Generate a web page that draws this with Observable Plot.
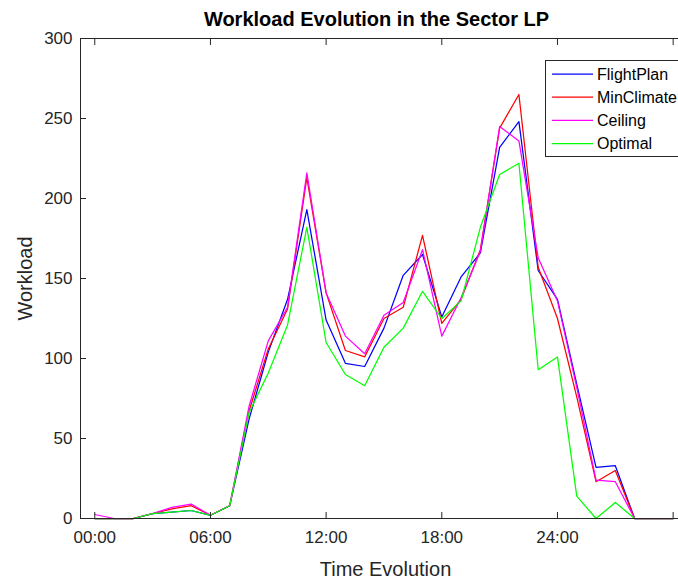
<!DOCTYPE html>
<html>
<head>
<meta charset="utf-8">
<script src="https://cdn.jsdelivr.net/npm/d3@7"></script>
<script src="https://cdn.jsdelivr.net/npm/@observablehq/plot@0.6"></script>
<style>
  body { margin: 0; background: #fff; }
  #chart { width: 678px; height: 580px; overflow: hidden; position: relative; }
  #chart svg { max-width: none !important; }
</style>
</head>
<body>
<div id="chart"></div>
<script>
// Hourly workload of the LP sector for each routing strategy
const hours = [0, 1, 2, 3, 4, 5, 6, 7, 8, 9, 10, 11, 12, 13, 14, 15, 16, 17, 18, 19, 20, 21, 22, 23, 24, 25, 26, 27, 28, 29, 30];

const flightPlan = [0, 0, 0, 3, 4, 5, 2, 8, 62, 104, 137, 193, 124, 97, 95, 119, 152, 165, 126, 151, 166, 232, 248, 155, 137, 84, 32, 33, 0, 0, 0];
const minClimate = [0, 0, 0, 3, 6, 8, 2, 8, 67, 106, 131, 213, 141, 105, 101, 125, 132, 177, 122, 137, 168, 244, 265, 157, 125, 76, 23, 30, 0, 0, 0];
const ceiling    = [2.5, 0, 0, 3, 7, 9, 2, 8, 70, 111, 132, 216, 141, 114, 103, 127, 135, 168, 114, 138, 167, 245, 236, 163, 136, 82, 24, 23, 0, 0, 0];
const optimal    = [0, 0, 0, 3, 4, 5, 2, 8, 66, 91, 121, 182, 110, 90, 83, 107, 119, 142, 125, 136, 182, 215, 222, 93, 101, 14, 0, 10, 0, 0, 0];

const seriesNames = ["FlightPlan", "MinClimate", "Ceiling", "Optimal"];
const seriesColors = ["#0000ff", "#ff0000", "#ff00ff", "#00ff00"];
const seriesValues = [flightPlan, minClimate, ceiling, optimal];

const xTicks = [0, 6, 12, 18, 24, 30];
const xTickLabels = ["00:00", "06:00", "12:00", "18:00", "24:00", ""];
const yTicks = [0, 50, 100, 150, 200, 250, 300];

const title = "Workload Evolution in the Sector LP";
const xLabel = "Time Evolution";
const yLabel = "Workload";

// long-format table for the line mark
const rows = seriesNames.flatMap((name, i) =>
  hours.map((h, j) => ({ series: name, hour: h, value: seriesValues[i][j] }))
);

const axisColor = "#262626";
const font = "'Liberation Sans', Arial, Helvetica, sans-serif";

const chart = Plot.plot({
  width: 700,
  height: 580,
  marginLeft: 80,
  marginRight: 10,
  marginTop: 38,
  marginBottom: 62,
  style: { fontFamily: font, fontSize: "16px", color: axisColor, background: "white", overflow: "visible", maxWidth: "none" },
  x: { domain: [-0.74, 30.9] },
  y: { domain: [0, 300] },
  color: { domain: seriesNames, range: seriesColors },
  marks: [
    Plot.line(rows, { x: "hour", y: "value", z: "series", stroke: "series", strokeWidth: 1.25 }),
    Plot.frame({ stroke: axisColor, strokeWidth: 1 }),
    // inward ticks on bottom, top and left edges
    Plot.axisX({ ticks: xTicks, tickSize: 6, dy: -6, text: null, label: null, stroke: axisColor }),
    Plot.axisX({ anchor: "top", ticks: xTicks, tickSize: 6, dy: 6, text: null, label: null, stroke: axisColor }),
    Plot.axisY({ ticks: yTicks, tickSize: 6, dx: 6, text: null, label: null, stroke: axisColor }),
    // tick labels
    Plot.axisX({ ticks: xTicks, tickSize: 0, tickPadding: 12, tickFormat: (d) => xTickLabels[xTicks.indexOf(d)], label: null, fontSize: 17, fill: axisColor }),
    Plot.axisY({ ticks: yTicks, tickSize: 0, tickPadding: 8, label: null, fontSize: 17, fill: axisColor }),
    // axis titles
    Plot.axisX({ ticks: [], label: xLabel, labelAnchor: "center", labelArrow: "none", labelOffset: 57, fontSize: 20, fill: axisColor }),
    Plot.axisY({ ticks: [], label: yLabel, labelAnchor: "center", labelArrow: "none", labelOffset: 63, fontSize: 20, fill: axisColor }),
    // chart title
    Plot.text([title], { frameAnchor: "top", dy: -19, dx: -9, fontWeight: "bold", fontSize: 20, fill: "black", lineAnchor: "middle" })
  ]
});

document.getElementById("chart").appendChild(chart);

// legend box in the upper right corner of the axes
const svg = d3.select(chart);
const lg = svg.append("g").attr("transform", "translate(545,60)").attr("text-anchor", "start");
lg.append("rect")
  .attr("x", 0.5).attr("y", 0.5)
  .attr("width", 160).attr("height", 96)
  .attr("fill", "white").attr("stroke", axisColor).attr("stroke-width", 1);
seriesNames.forEach((name, i) => {
  const cy = 14 + i * 23.2;
  lg.append("line")
    .attr("x1", 7).attr("x2", 48).attr("y1", cy).attr("y2", cy)
    .attr("stroke", seriesColors[i]).attr("stroke-width", 1.25);
  lg.append("text")
    .attr("x", 52).attr("y", cy).attr("dy", "0.36em")
    .attr("text-anchor", "start")
    .attr("font-family", font).attr("font-size", 16).attr("fill", "black")
    .text(name);
});
</script>
</body>
</html>
